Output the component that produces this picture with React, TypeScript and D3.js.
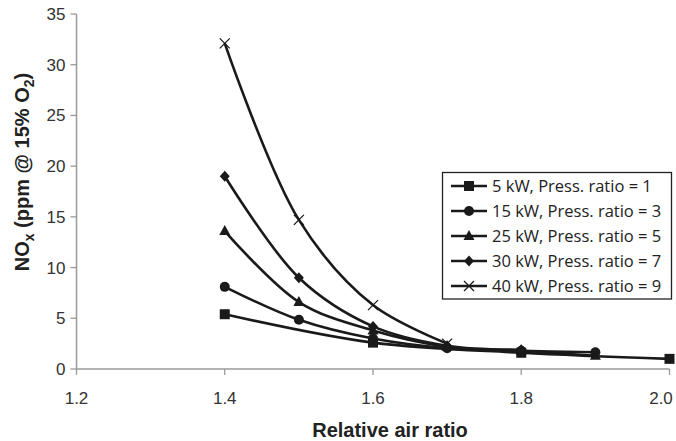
import React from "react";
import * as d3 from "d3";

const seriesNames = [
  "5 kW, Press. ratio = 1",
  "15 kW, Press. ratio = 3",
  "25 kW, Press. ratio = 5",
  "30 kW, Press. ratio = 7",
  "40 kW, Press. ratio = 9",
];
const markerTypes = ["square", "circle", "triangle", "diamond", "cross"];

const x5 = [1.4, 1.6, 1.8, 2.0];
const y5 = [5.4, 2.6, 1.6, 1.0];
const x15 = [1.4, 1.5, 1.6, 1.7, 1.8, 1.9];
const y15 = [8.1, 4.85, 3.0, 2.05, 1.8, 1.65];
const x25 = [1.4, 1.5, 1.6, 1.7, 1.8, 1.9];
const y25 = [13.6, 6.6, 3.8, 2.2, 1.8, 1.3];
const x30 = [1.4, 1.5, 1.6, 1.7, 1.8];
const y30 = [19.0, 9.0, 4.2, 2.3, 1.9];
const x40 = [1.4, 1.5, 1.6, 1.7];
const y40 = [32.1, 14.7, 6.3, 2.5];

const seriesX = [x5, x15, x25, x30, x40];
const seriesY = [y5, y15, y25, y30, y40];

const xTicks = [1.2, 1.4, 1.6, 1.8, 2.0];
const yTicks = [0, 5, 10, 15, 20, 25, 30, 35];

const W = 676;
const H = 441;
const left = 76.5;
const right = 669.5;
const top = 14;
const bottom = 369;

function Marker({ type, x, y }: { type: string; x: number; y: number }) {
  const c = "#1a1a1a";
  if (type === "square") return <rect x={x - 5} y={y - 5} width={10} height={10} fill={c} />;
  if (type === "circle") return <circle cx={x} cy={y} r={5} fill={c} />;
  if (type === "triangle")
    return <path d={`M${x},${y - 6}L${x + 5.5},${y + 4}L${x - 5.5},${y + 4}Z`} fill={c} />;
  if (type === "diamond")
    return <path d={`M${x},${y - 5.5}L${x + 5},${y}L${x},${y + 5.5}L${x - 5},${y}Z`} fill={c} />;
  return (
    <path
      d={`M${x - 5},${y - 5}L${x + 5},${y + 5}M${x - 5},${y + 5}L${x + 5},${y - 5}`}
      stroke={c}
      strokeWidth={1.3}
      fill="none"
    />
  );
}

export default function App() {
  const xs = d3.scaleLinear().domain([1.2, 2.0]).range([left, right]);
  const ys = d3.scaleLinear().domain([0, 35]).range([bottom, top]);
  const line = d3
    .line<[number, number]>()
    .x((d) => xs(d[0]))
    .y((d) => ys(d[1]))
    .curve(d3.curveCatmullRom.alpha(0.5));

  const axisColor = "#9a9a9a";
  const tickFont = "'Liberation Sans', Arial, sans-serif";

  const legX = 442.5;
  const legY = 172.5;
  const legW = 229;
  const legH = 126.5;

  return (
    <svg width={W} height={H} style={{ position: "absolute", left: 0, top: 0 }}>
      <rect width={W} height={H} fill="#fff" />
      {/* axes */}
      <line x1={left} x2={left} y1={top} y2={bottom} stroke={axisColor} strokeWidth={1.5} />
      <line x1={left} x2={right} y1={bottom} y2={bottom} stroke={axisColor} strokeWidth={1.5} />
      {yTicks.map((t) => (
        <g key={"y" + t}>
          <line x1={left - 6} x2={left} y1={ys(t)} y2={ys(t)} stroke={axisColor} strokeWidth={1.3} />
          <text
            x={left - 11}
            y={ys(t) + 6}
            textAnchor="end"
            fontFamily={tickFont}
            fontSize={17}
            fill="#333"
          >
            {t}
          </text>
        </g>
      ))}
      {xTicks.map((t) => (
        <g key={"x" + t}>
          <line x1={xs(t)} x2={xs(t)} y1={bottom} y2={bottom + 6} stroke={axisColor} strokeWidth={1.3} />
          <text
            x={Math.min(xs(t), W - 15)}
            y={bottom + 35}
            textAnchor="middle"
            fontFamily={tickFont}
            fontSize={17}
            fill="#333"
          >
            {t.toFixed(1)}
          </text>
        </g>
      ))}
      {/* axis titles */}
      <text
        x={390}
        y={437}
        textAnchor="middle"
        fontFamily={tickFont}
        fontWeight="bold"
        fontSize={20}
        fill="#222"
      >
        Relative air ratio
      </text>
      <text
        transform={`translate(29,172) rotate(-90)`}
        textAnchor="middle"
        fontFamily={tickFont}
        fontWeight="bold"
        fontSize={20}
        fill="#222"
      >
        NO
        <tspan fontSize={14} dy={5}>x</tspan>
        <tspan dy={-5}> (ppm @ 15% O</tspan>
        <tspan fontSize={14} dy={5}>2</tspan>
        <tspan dy={-5}>)</tspan>
      </text>
      {/* series */}
      {seriesX.map((xsArr, i) => {
        const pts: [number, number][] = xsArr.map((xv, j) => [xv, seriesY[i][j]]);
        return (
          <g key={"s" + i}>
            <path d={line(pts) || ""} fill="none" stroke="#1a1a1a" strokeWidth={2.6} />
            {pts.map((p, j) => (
              <Marker key={j} type={markerTypes[i]} x={xs(p[0])} y={ys(p[1])} />
            ))}
          </g>
        );
      })}
      {/* legend */}
      <rect x={legX} y={legY} width={legW} height={legH} fill="#fff" stroke="#222" strokeWidth={1.3} />
      {seriesNames.map((name, i) => {
        const cy = legY + 13.5 + i * 25;
        return (
          <g key={"l" + i}>
            <line x1={451} x2={487} y1={cy} y2={cy} stroke="#1a1a1a" strokeWidth={2.6} />
            <Marker type={markerTypes[i]} x={469} y={cy} />
            <text
              x={492}
              y={cy + 6}
              fontFamily="'Open Sans', 'Noto Sans', sans-serif"
              fontSize={16.5}
              fill="#222"
            >
              {name}
            </text>
          </g>
        );
      })}
    </svg>
  );
}
